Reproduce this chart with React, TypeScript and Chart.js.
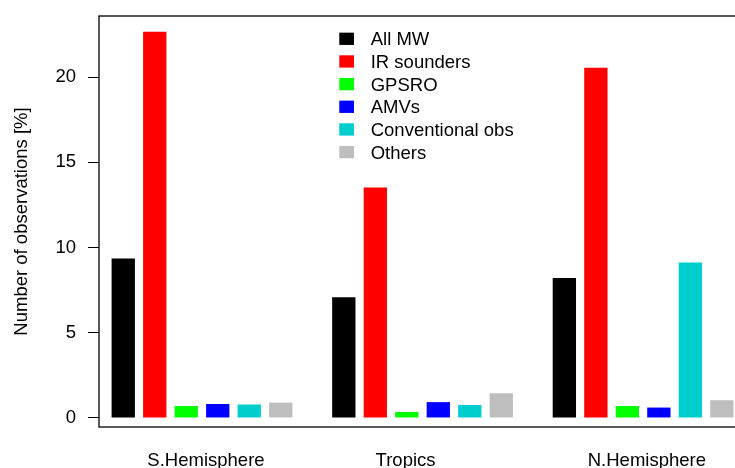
import React, { useEffect, useRef } from "react";
import { Chart, registerables } from "chart.js";

Chart.register(...registerables);

const categories = ["S.Hemisphere", "Tropics", "N.Hemisphere"];
const seriesNames = ["All MW", "IR sounders", "GPSRO", "AMVs", "Conventional obs", "Others"];
const allMW = [9.36, 7.09, 8.22];
const irSounders = [22.67, 13.53, 20.55];
const gpsro = [0.7, 0.35, 0.7];
const amvs = [0.82, 0.93, 0.61];
const conventional = [0.79, 0.76, 9.12];
const others = [0.9, 1.45, 1.04];
const yTicks = [0, 5, 10, 15, 20];

const seriesValues = [allMW, irSounders, gpsro, amvs, conventional, others];
const seriesColors = ["#000000", "#FF0000", "#00FF00", "#0000FF", "#00CDCD", "#BEBEBE"];

const FONT = '"Liberation Sans", Arial, Helvetica, sans-serif';
const FS = 18.5;
// label anchor positions along the group axis (groups at 1, 2, 3)
const labelAnchors = [1.018, 1.923, 3.017];

const boxPlugin = {
  id: "rbox",
  afterDraw(chart: any) {
    const { ctx, chartArea } = chart;
    ctx.save();
    ctx.strokeStyle = "#000";
    ctx.lineWidth = 1.3;
    ctx.strokeRect(chartArea.left, chartArea.top, chartArea.right - chartArea.left, chartArea.bottom - chartArea.top);
    ctx.restore();
  },
};

const legendPlugin = {
  id: "rlegend",
  afterDraw(chart: any) {
    const { ctx, chartArea } = chart;
    const x0 = chartArea.left + 240.3;
    const tx = chartArea.left + 271.7;
    const y0 = chartArea.top + 22.8;
    const step = 22.66;
    ctx.save();
    ctx.font = `${FS}px ${FONT}`;
    ctx.textBaseline = "middle";
    ctx.textAlign = "left";
    chart.data.datasets.forEach((ds: any, i: number) => {
      const cy = y0 + i * step;
      ctx.fillStyle = ds.backgroundColor;
      ctx.fillRect(x0, cy - 6.15, 14.7, 12.3);
      ctx.fillStyle = "#000";
      ctx.fillText(ds.label, tx, cy + 1.5);
    });
    ctx.restore();
  },
};

export default function App() {
  const ref = useRef<HTMLCanvasElement | null>(null);

  useEffect(() => {
    if (!ref.current) return;
    const datasets = seriesNames.map((name, s) => ({
      label: name,
      data: seriesValues[s].map((v, i) => ({ x: i + 1, y: v })),
      backgroundColor: seriesColors[s],
      borderWidth: 0,
      categoryPercentage: 0.8568,
      barPercentage: 0.74,
      xAxisID: "x",
      yAxisID: "y",
    }));

    const chart = new Chart(ref.current, {
      type: "bar",
      data: { datasets },
      options: {
        responsive: false,
        animation: false,
        devicePixelRatio: 1,
        layout: { padding: { left: 0, right: 20, top: 16, bottom: 0 } },
        plugins: { legend: { display: false }, tooltip: { enabled: false } },
        scales: {
          x: {
            type: "linear",
            display: false,
            offset: false,
            min: 0.533,
            max: 3.53,
            afterBuildTicks: (scale: any) => {
              scale.ticks = categories.map((_, i) => ({ value: i + 1 }));
            },
          },
          xl: {
            type: "linear",
            position: "bottom",
            offset: false,
            min: 0.533,
            max: 3.53,
            grid: { display: false, drawTicks: false },
            border: { display: false },
            afterBuildTicks: (scale: any) => {
              scale.ticks = labelAnchors.map((v) => ({ value: v }));
            },
            ticks: {
              padding: 23,
              maxRotation: 0,
              autoSkip: false,
              color: "#000",
              font: { family: FONT, size: FS },
              callback: (_v: any, i: number) => categories[i],
            },
            afterFit: (scale: any) => {
              scale.height = 41;
              scale.paddingLeft = 0;
              scale.paddingRight = 0;
            },
          },
          y: {
            type: "linear",
            position: "left",
            min: -0.53,
            max: 23.59,
            afterBuildTicks: (scale: any) => {
              scale.ticks = yTicks.map((v) => ({ value: v }));
            },
            grid: {
              display: true,
              drawOnChartArea: false,
              drawTicks: true,
              tickLength: 11,
              color: "#000",
              lineWidth: 1,
            },
            border: { display: false },
            ticks: {
              padding: 12,
              color: "#000",
              font: { family: FONT, size: FS },
            },
            title: {
              display: true,
              text: "Number of observations [%]",
              color: "#000",
              font: { family: FONT, size: FS },
              padding: { top: 11, bottom: 0 },
            },
            afterFit: (scale: any) => {
              scale.width = 99;
              scale.paddingTop = 0;
              scale.paddingBottom = 0;
            },
          },
        },
      },
      plugins: [boxPlugin, legendPlugin],
    } as any);

    return () => chart.destroy();
  }, []);

  return (
    <div
      style={{
        position: "absolute",
        left: 0,
        top: 0,
        width: 735,
        height: 468,
        overflow: "hidden",
        background: "#fff",
      }}
    >
      <canvas ref={ref} width={780} height={468} style={{ display: "block" }} />
    </div>
  );
}
